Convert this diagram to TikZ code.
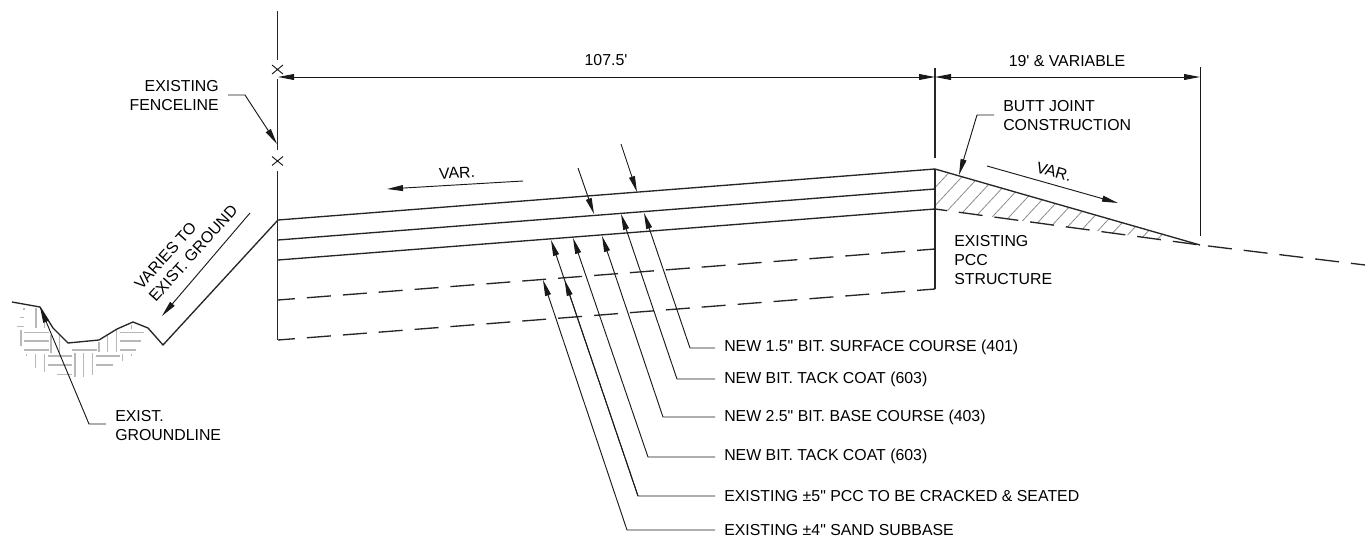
\documentclass[tikz,border=0pt]{standalone}
\usepackage{fontspec}
\newfontfamily\lblfont{Liberation Sans}
\usetikzlibrary{arrows.meta,calc}
\tikzset{
  main/.style={line width=1pt,black!85},
  thin line/.style={line width=0.7pt,black!90},
  dashline/.style={main,dash pattern=on 18pt off 9pt,dash phase=5.25pt},
  arrowline/.style={thin line,-{Triangle[length=12pt,width=4.4pt]}},
  dimline/.style={thin line,{Triangle[length=12pt,width=4.4pt]}-{Triangle[length=12pt,width=4.4pt]}},
  label/.style={inner sep=0pt,font=\lblfont\fontsize{11.9}{14.3}\selectfont,text=black},
  hatchline/.style={line width=0.6pt,black!45},
  groundline/.style={line width=1pt,black!28},
}
\begin{document}
\begin{tikzpicture}[x=0.75pt,y=-0.75pt]
\useasboundingbox (0,0) rectangle (1372,550);
% key points
\coordinate (fa) at (277.5,11);
\coordinate (fb) at (277.5,60);
\coordinate (fc) at (277.5,79);
\coordinate (fd) at (277.5,150);
\coordinate (fe) at (277.5,171);
\coordinate (ff) at (277.5,340);
\coordinate (xa) at (277.5,69.5);
\coordinate (xb) at (277.5,161);
\coordinate (ca) at (935,68);
\coordinate (cb) at (935,158);
\coordinate (cc) at (935,169);
\coordinate (cd) at (935,289);
\coordinate (ra) at (1200,67);
\coordinate (rb) at (1200,236);
\coordinate (toe) at (1200,245);
\coordinate (far) at (1365,265);
% ground hatching
\foreach \x/\a/\b in {42/38/45,78/38/100,103/60/100,33/105/153,123/120/175,148/120/175,267/140/172,293/120/172,320/105/172,365/90/102,338/178/197,365/178/183,50/178/183,77/178/218,103/178/230,195/175/245,220/175/245,247/175/240}
  \draw[groundline] ({10+\x/3},{295+\a/3}) -- ({10+\x/3},{295+\b/3});
\foreach \y/\a/\b in {68/30/42,95/22/42,112/42/118,138/42/118,165/42/118,165/185/260,183/115/187,183/258/330,210/115/187,210/258/310,238/142/187,112/330/402,138/330/392,165/330/378}
  \draw[groundline] ({10+\a/3},{295+\y/3}) -- ({10+\b/3},{295+\y/3});
% shoulder hatching
\begin{scope}
\clip (cc) -- (toe) -- (935,209) -- cycle;
\foreach \k in {0,...,16}
  \draw[hatchline] ({949.5+13.35*\k},{172+3.83*\k}) -- ++(-40,43);
\end{scope}
% fence posts and dimension witness lines
\draw[main] (fa) -- (fb);
\draw[main] (fc) -- (fd);
\draw[main] (fe) -- (ff);
\draw[main] (ca) -- (cb);
\draw[main] (cc) -- (cd);
\draw[thin line] (ra) -- (rb);
\draw[thin line] ($(xa)+(-5.5,-4.5)$) -- ($(xa)+(5.5,4.5)$) ($(xa)+(-5.5,4.5)$) -- ($(xa)+(5.5,-4.5)$);
\draw[thin line] ($(xb)+(-5.5,-4.5)$) -- ($(xb)+(5.5,4.5)$) ($(xb)+(-5.5,4.5)$) -- ($(xb)+(5.5,-4.5)$);
% pavement
\draw[main] (278,220) -- (cc) -- (toe);
\draw[main] (278,240) -- (935,189);
\draw[main] (278,260) -- (935,209);
\draw[dashline] (278,300) -- (935,249);
\draw[dashline] (278,340) -- (cd);
\draw[main,dash pattern=on 18pt off 9pt,dash phase=9pt] (935,209) -- (toe);
\draw[main,dash pattern=on 18pt off 9pt,dash phase=21pt] (toe) -- (far);
% ground
\draw[main] (12,302) -- (40,307) -- (53,328) -- (68,343) -- (99,340) -- (117,329) -- (133,322) -- (148,328) -- (163,345) -- (278,220);
% dimensions
\draw[dimline] (278,77) -- (935,77);
\draw[dimline] (935,77) -- (1200,77);
\node[label] (dim1) at (606,60.5) {107.5'};
\node[label] (dim2) at (1067,61) {19' \& VARIABLE};
% VAR arrows
\draw[arrowline] (523,181) -- (387,189);
\node[label,rotate=3] (var1) at (457,173) {VAR.};
\draw[arrowline] (987,166) -- (1118,203);
\node[label,rotate=-16] (var2) at (1054,172) {VAR.};
\draw[arrowline] (250,213) -- (162,316);
\node[label,rotate=48,align=left] (varies) at (186,247) {VARIES TO\\EXIST. GROUND};
% upper left labels
\node[label,anchor=east,align=right] (fence) at (219,95.5) {EXISTING\\FENCELINE};
\draw[arrowline] (228,95) -- (245,95) -- (277,144);
\node[label,anchor=west,align=left] (exg) at (115,425.5) {EXIST.\\GROUNDLINE};
\draw[arrowline] (106,424) -- (89,424) -- (40,307);
\node[label,anchor=west,align=left] (butt) at (1003,115.5) {BUTT JOINT\\CONSTRUCTION};
\draw[arrowline] (994,115) -- (977,115) -- (959,175);
\node[label,anchor=west,align=left] (pcc) at (954,260) {EXISTING\\PCC\\STRUCTURE};
% thickness arrows
\draw[arrowline] (621,144) -- (637,192);
\draw[arrowline] (578,168) -- (594,214);
% callouts
\node[label,anchor=west] (t1) at (724,347) {NEW 1.5" BIT. SURFACE COURSE (401)};
\node[label,anchor=west] (t2) at (724,379) {NEW BIT. TACK COAT (603)};
\node[label,anchor=west] (t3) at (724,417) {NEW 2.5" BIT. BASE COURSE (403)};
\node[label,anchor=west] (t4) at (724,456) {NEW BIT. TACK COAT (603)};
\node[label,anchor=west] (t5) at (724,496) {EXISTING ±5" PCC TO BE CRACKED \& SEATED};
\node[label,anchor=west] (t6) at (724,530) {EXISTING ±4" SAND SUBBASE};
\draw[arrowline] (715,348) -- (690,348) -- (644,213);
\draw[arrowline] (715,379) -- (677,379) -- (621,214);
\draw[arrowline] (715,417) -- (663,417) -- (602,236);
\draw[arrowline] (715,457) -- (648,457) -- (573,238);
\draw[arrowline] (715,496) -- (638,496) -- (551,240);
\draw[arrowline] (638,496) -- (564.6,280);
\draw[arrowline] (715,530) -- (627,530) -- (543,280);
\end{tikzpicture}
\end{document}
